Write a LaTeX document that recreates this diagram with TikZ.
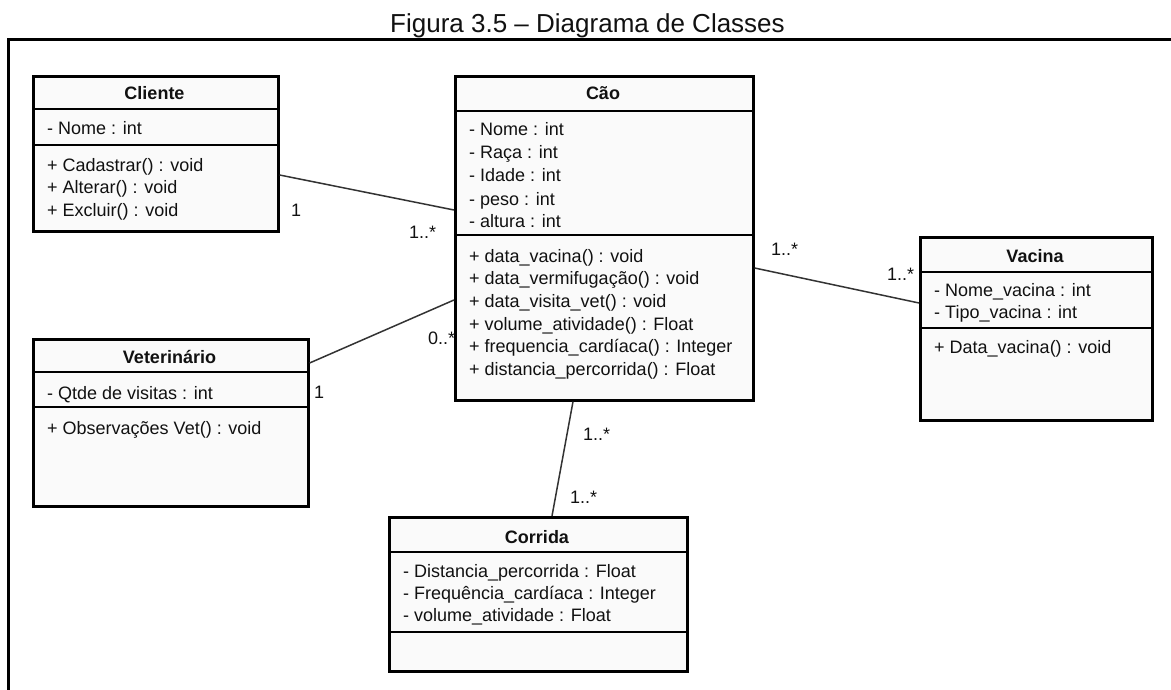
\documentclass[tikz,border=0pt]{standalone}
\usepackage{fontspec}
\setmainfont{Liberation Sans}
\definecolor{boxfill}{HTML}{FAFAFA}
\definecolor{linegray}{HTML}{333333}
\definecolor{txt}{HTML}{111111}
\tikzset{
  classbox/.style={draw=black, line width=2.6pt, fill=boxfill, anchor=north west, inner sep=0pt},
  sepline/.style={line width=1.3pt, draw=black},
  conn/.style={line width=1.5pt, draw=linegray},
  ctitle/.style={font=\fontsize{18}{18}\selectfont\bfseries, anchor=base, inner sep=0pt, text=txt},
  mem/.style={font=\fontsize{18}{18}\selectfont, anchor=base west, inner sep=0pt, text=txt},
  mult/.style={font=\fontsize{18}{18}\selectfont, anchor=base west, inner sep=0pt, text=txt},
  figframe/.style={line width=2.7pt, draw=black},
  figtitle/.style={font=\fontsize{26}{26}\selectfont, anchor=base, inner sep=0pt, text=txt}
}
\begin{document}
\begin{tikzpicture}[x=1pt,y=-1pt]
\useasboundingbox (0,0) rectangle (1171,690);
\fill[white] (0,0) rectangle (1171,690);

% title and frame
\node[figtitle] (title) at (587.5,33) {Figura 3.5 – Diagrama de Classes};
\draw[figframe] (1172,39.5) -- (8.7,39.5) -- (8.7,691);

% class boxes
\node[classbox, minimum width=245pt, minimum height=155pt] (cliente) at (32,75) {};
\node[classbox, minimum width=298pt, minimum height=324pt] (cao) at (454,75) {};
\node[classbox, minimum width=232pt, minimum height=183pt] (vacina) at (919,236) {};
\node[classbox, minimum width=275pt, minimum height=167pt] (vet) at (32,338) {};
\node[classbox, minimum width=298pt, minimum height=154pt] (corrida) at (388,516) {};

% connectors
\draw[conn] ([yshift=-100pt]cliente.north east) -- ([yshift=-135pt]cao.north west);
\draw[conn] ([yshift=-25pt]vet.north east) -- ([yshift=-225pt]cao.north west);
\draw[conn] ([yshift=-193pt]cao.north east) -- ([yshift=-67pt]vacina.north west);
\draw[conn] ([xshift=119pt]cao.south west) -- ([xshift=164pt]corrida.north west);

% separators
\draw[sepline] ([yshift=-34pt]cliente.north west) -- ([yshift=-34pt]cliente.north east);
\draw[sepline] ([yshift=-70pt]cliente.north west) -- ([yshift=-70pt]cliente.north east);
\draw[sepline] ([yshift=-36pt]cao.north west) -- ([yshift=-36pt]cao.north east);
\draw[sepline] ([yshift=-160pt]cao.north west) -- ([yshift=-160pt]cao.north east);
\draw[sepline] ([yshift=-36pt]vacina.north west) -- ([yshift=-36pt]vacina.north east);
\draw[sepline] ([yshift=-92pt]vacina.north west) -- ([yshift=-92pt]vacina.north east);
\draw[sepline] ([yshift=-34pt]vet.north west) -- ([yshift=-34pt]vet.north east);
\draw[sepline] ([yshift=-69pt]vet.north west) -- ([yshift=-69pt]vet.north east);
\draw[sepline] ([yshift=-36pt]corrida.north west) -- ([yshift=-36pt]corrida.north east);
\draw[sepline] ([yshift=-116pt]corrida.north west) -- ([yshift=-116pt]corrida.north east);

% Cliente
\node[ctitle] (cliente-t) at (154.5,100) {Cliente};
\node[mem] (cliente-a1) at (47,135) {- Nome : int};
\node[mem] (cliente-m1) at (47,172) {+ Cadastrar() : void};
\node[mem] (cliente-m2) at (47,194) {+ Alterar() : void};
\node[mem] (cliente-m3) at (47,216) {+ Excluir() : void};

% Cao
\node[ctitle] (cao-t) at (603,100) {Cão};
\node[mem] (cao-a1) at (469,136) {- Nome : int};
\node[mem] (cao-a2) at (469,159) {- Raça : int};
\node[mem] (cao-a3) at (469,182) {- Idade : int};
\node[mem] (cao-a4) at (469,205) {- peso : int};
\node[mem] (cao-a5) at (469,228) {- altura : int};
\node[mem] (cao-m1) at (469,262) {+ data\_vacina() : void};
\node[mem] (cao-m2) at (469,284.7) {+ data\_vermifugação() : void};
\node[mem] (cao-m3) at (469,307.4) {+ data\_visita\_vet() : void};
\node[mem] (cao-m4) at (469,330.1) {+ volume\_atividade() : Float};
\node[mem] (cao-m5) at (469,352.8) {+ frequencia\_cardíaca() : Integer};
\node[mem] (cao-m6) at (469,375.5) {+ distancia\_percorrida() : Float};

% Vacina
\node[ctitle] (vacina-t) at (1035,262) {Vacina};
\node[mem] (vacina-a1) at (934,296) {- Nome\_vacina : int};
\node[mem] (vacina-a2) at (934,318) {- Tipo\_vacina : int};
\node[mem] (vacina-m1) at (934,353) {+ Data\_vacina() : void};

% Veterinario
\node[ctitle] (vet-t) at (169.5,363) {Veterinário};
\node[mem] (vet-a1) at (47,399) {- Qtde de visitas : int};
\node[mem] (vet-m1) at (47,434) {+ Observações Vet() : void};

% Corrida
\node[ctitle] (corrida-t) at (537,543) {Corrida};
\node[mem] (corrida-a1) at (403,577) {- Distancia\_percorrida : Float};
\node[mem] (corrida-a2) at (403,599) {- Frequência\_cardíaca : Integer};
\node[mem] (corrida-a3) at (403,621.5) {- volume\_atividade : Float};

% multiplicities
\node[mult] (m-cli1) at (291,217) {1};
\node[mult] (m-cli2) at (409,239) {1..*};
\node[mult] (m-vet1) at (314,398) {1};
\node[mult] (m-vet2) at (428,344) {0..*};
\node[mult] (m-vac1) at (771,255) {1..*};
\node[mult] (m-vac2) at (887,280) {1..*};
\node[mult] (m-cor1) at (583,440) {1..*};
\node[mult] (m-cor2) at (570,503) {1..*};
\end{tikzpicture}
\end{document}
